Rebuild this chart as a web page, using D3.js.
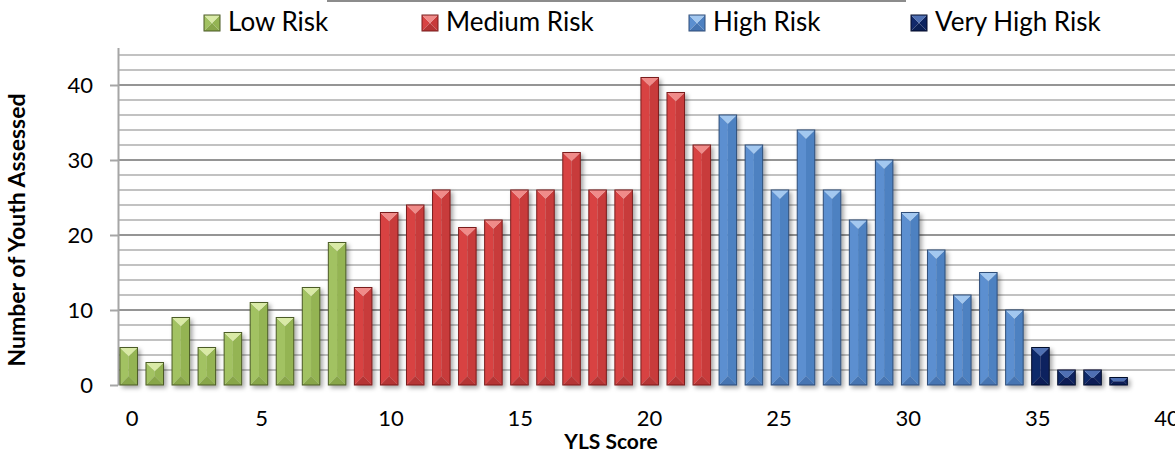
<!DOCTYPE html>
<html>
<head>
<meta charset="utf-8">
<script src="https://cdn.jsdelivr.net/npm/d3@7/dist/d3.min.js"></script>
<style>
  html, body { margin: 0; padding: 0; background: #fff; }
  svg { display: block; }
  text { font-family: Lato, "Open Sans", sans-serif; fill: #000; }
</style>
</head>
<body>
<svg id="chart" width="1175" height="455"></svg>
<script>
// YLS score distribution of assessed youth
const scores = [0,1,2,3,4,5,6,7,8,9,10,11,12,13,14,15,16,17,18,19,20,21,22,23,24,25,26,27,28,29,30,31,32,33,34,35,36,37,38];
const counts = [5,3,9,5,7,11,9,13,19,13,23,24,26,21,22,26,26,31,26,26,41,39,32,36,32,26,34,26,22,30,23,18,12,15,10,5,2,2,1];
const riskLevels = ["Low Risk", "Medium Risk", "High Risk", "Very High Risk"];
const riskStartScore = [0, 9, 23, 35];
const yTicks = [0, 10, 20, 30, 40];
const xTicks = [0, 5, 10, 15, 20, 25, 30, 35, 40];

// facet colours per risk level: top, left, right, bottom, outline
const palette = [
  { top: "#d9eaa6", left: "#a2c262", right: "#94b453", bottom: "#88a64a", line: "#4b5b25" },
  { top: "#f08b89", left: "#d84343", right: "#c83a3a", bottom: "#b53434", line: "#7a1d1d" },
  { top: "#a3c8f0", left: "#5b8fd0", right: "#4e81c1", bottom: "#4675b2", line: "#2e4d78" },
  { top: "#4f70b3", left: "#11296b", right: "#0c235f", bottom: "#0a1f54", line: "#020b2a" }
];

const riskOf = s => d3.bisectRight(riskStartScore, s) - 1;

const svg = d3.select("#chart");
const defs = svg.append("defs");
const shadow = defs.append("filter").attr("id", "shadow")
  .attr("x", "-30%").attr("y", "-30%").attr("width", "160%").attr("height", "160%");
shadow.append("feDropShadow")
  .attr("dx", 2.5).attr("dy", 2.5).attr("stdDeviation", 2)
  .attr("flood-color", "#000").attr("flood-opacity", 0.35);

const axisLeftX = 118;
const y = d3.scaleLinear().domain([0, 45]).range([385, 47.5]);
const x = d3.scaleBand().domain(scores).range([115.675, 1131.625])
  .paddingInner(0.327).paddingOuter(0.1635);
const xt = d3.scaleLinear().domain([0, 40]).range([131.7, 1166.5]);

// thin rule along the top edge
svg.append("line").attr("x1", 327).attr("x2", 906).attr("y1", 1).attr("y2", 1)
  .attr("stroke", "#8c8c8c").attr("stroke-width", 2);

// horizontal gridlines every 2 units, darker at each 10
const gridVals = d3.range(2, 45, 2);
svg.append("g").selectAll("line").data(gridVals).join("line")
  .attr("x1", axisLeftX).attr("x2", 1175)
  .attr("y1", d => y(d)).attr("y2", d => y(d))
  .attr("stroke", d => d % 10 === 0 ? "#959595" : "#c2c2c2")
  .attr("stroke-width", 2);

// y axis
const yAxis = svg.append("g").attr("transform", `translate(${axisLeftX},0)`)
  .call(d3.axisLeft(y).tickValues(yTicks).tickSize(8).tickSizeOuter(0).tickPadding(17));
yAxis.select(".domain").attr("stroke", "#a6a6a6").attr("stroke-width", 2);
yAxis.selectAll(".tick line").attr("stroke", "#a6a6a6").attr("stroke-width", 2);
yAxis.selectAll(".tick text").attr("font-size", 22).attr("font-family", "Lato").attr("fill", "#000");

// bevelled bars
function facets(x0, y0, w, h) {
  const d = Math.min(w, h) / 2;
  const x1 = x0 + w, y1 = y0 + h;
  return {
    top: [[x0, y0], [x1, y0], [x1 - d, y0 + d], [x0 + d, y0 + d]],
    left: [[x0, y0], [x0 + d, y0 + d], [x0 + d, y1 - d], [x0, y1]],
    right: [[x1, y0], [x1 - d, y0 + d], [x1 - d, y1 - d], [x1, y1]],
    bottom: [[x0, y1], [x1, y1], [x1 - d, y1 - d], [x0 + d, y1 - d]]
  };
}
const pts = p => p.map(q => q.join(",")).join(" ");

function drawBevel(g, x0, y0, w, h, c) {
  const f = facets(x0, y0, w, h);
  ["left", "right", "bottom", "top"].forEach(k => {
    g.append("polygon").attr("points", pts(f[k])).attr("fill", c[k]);
  });
  g.append("rect").attr("x", x0).attr("y", y0).attr("width", w).attr("height", h)
    .attr("fill", "none").attr("stroke", c.line).attr("stroke-width", 1);
}

const barsG = svg.append("g").attr("filter", "url(#shadow)");
scores.forEach((s, i) => {
  const g = barsG.append("g");
  const x0 = x(s), w = x.bandwidth();
  const y0 = y(counts[i]), h = y(0) - y(counts[i]);
  drawBevel(g, x0, y0, w, h, palette[riskOf(s)]);
});

// baseline
svg.append("line").attr("x1", 110).attr("x2", 1175).attr("y1", y(0)).attr("y2", y(0))
  .attr("stroke", "#a0a0a0").attr("stroke-width", 2.5).attr("filter", "url(#shadow)");

// x axis labels
const xAxis = svg.append("g").attr("transform", `translate(0,${y(0)})`)
  .call(d3.axisBottom(xt).tickValues(xTicks).tickSize(0).tickPadding(25));
xAxis.select(".domain").remove();
xAxis.selectAll(".tick text").attr("font-size", 22).attr("font-family", "Lato").attr("fill", "#000");

// axis titles
svg.append("text").attr("x", 611).attr("y", 449).attr("text-anchor", "middle")
  .attr("font-size", 21).attr("font-weight", "bold").text("YLS Score");
svg.append("text").attr("transform", "translate(25,230) rotate(-90)")
  .attr("text-anchor", "middle").attr("font-size", 23).attr("font-weight", "bold")
  .text("Number of Youth Assessed");

// legend
const legendX = [204, 422, 689, 911];
const legend = svg.append("g");
riskLevels.forEach((name, k) => {
  const g = legend.append("g");
  drawBevel(g, legendX[k], 15, 16, 16, palette[k]);
  g.append("text").attr("x", legendX[k] + 24).attr("y", 31)
    .attr("font-size", 26).text(name);
});
</script>
</body>
</html>
